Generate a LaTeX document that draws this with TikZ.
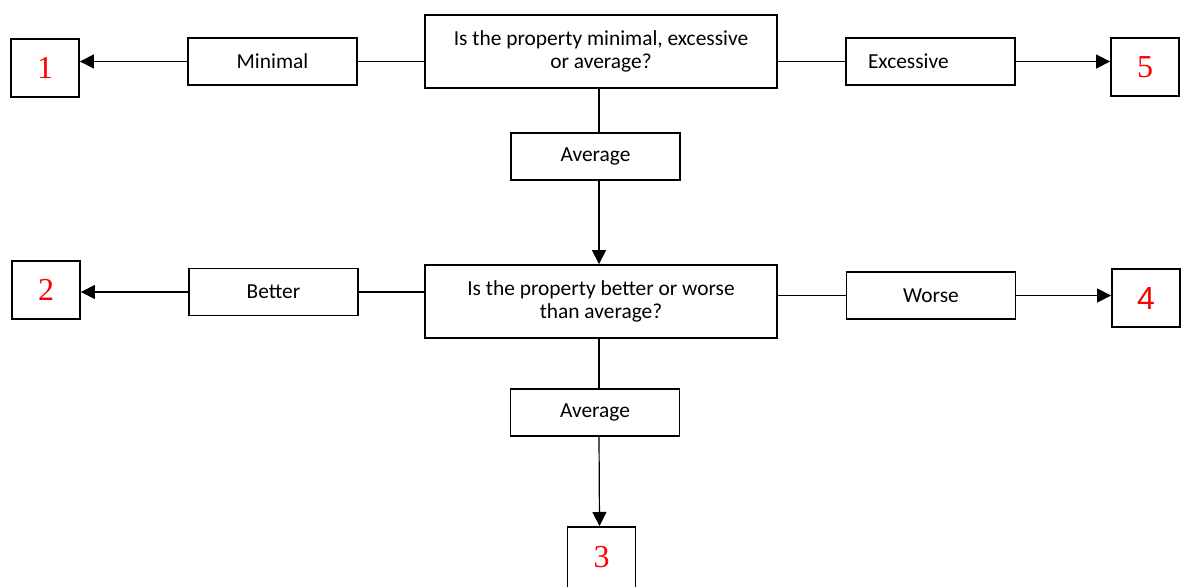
\documentclass[tikz,border=0pt]{standalone}
\usepackage{fontspec}
\setmainfont{Carlito}
\newfontfamily\numserif{Liberation Serif}
\newfontfamily\numsans{Liberation Sans}
\usepackage{xcolor}
\usetikzlibrary{arrows.meta,positioning}

\begin{document}
\begin{tikzpicture}[
    x=0.5pt, y=-0.5pt,
    box/.style={rectangle, draw, line width=0.9pt, minimum width=84.5pt, minimum height=23.5pt, align=center, inner sep=0pt, font=\fontsize{10.7}{11.5}\selectfont},
    question/.style={box, minimum width=176pt, minimum height=36.5pt},
    outcome/.style={rectangle, draw, line width=0.9pt, minimum width=34pt, minimum height=29pt, inner sep=0pt, text=red, font=\numserif\fontsize{16}{18}\selectfont},
    link/.style={line width=0.6pt},
    arrow/.style={link, -{Triangle[length=7pt,width=7pt]}}
]
\useasboundingbox (0,0) rectangle (1182,587);

% questions
\node[question] (q1) at (601,51.5) {Is the property minimal, excessive\\or average?};
\node[question] (q2) at (601,301.5) {Is the property better or worse\\than average?};

% answers
\node[box] (minimal) at (272.5,61.5) {Minimal};
\node[box, text width=62.5pt, inner xsep=11pt, align=left] (excessive) at (930.5,61.5) {Excessive};
\node[box] (avg1) at (595.5,156.5) {Average};
\node[box] (better) at (273.5,292) {Better};
\node[box] (worse) at (931,295.5) {Worse};
\node[box] (avg2) at (595,412.5) {Average};

% outcomes
\node[outcome] (o1) at (45,68) {1};
\node[outcome] (o5) at (1145,67) {5};
\node[outcome] (o2) at (46,290) {2};
\node[outcome, font=\numsans\fontsize{16}{18}\selectfont] (o4) at (1146,298) {4};
\node[outcome, anchor=north, minimum height=60pt, text depth=30pt] (o3) at (601.5,526) {3};

\draw[link] (minimal.east) -- (minimal.east -| q1.west);
\draw[arrow] (minimal.west) -- (minimal.west -| o1.east);
\draw[link] (excessive.west) -- (excessive.west -| q1.east);
\draw[arrow] (excessive.east) -- (excessive.east -| o5.west);
\draw[link] ([xshift=-1pt]q1.south) -- ([xshift=-1pt]q1.south |- avg1.north);
\draw[arrow] ([xshift=-1pt]avg1.south -| q2.north) -- ([xshift=-1pt]q2.north);

\draw[link] (better.east) -- (better.east -| q2.west);
\draw[arrow] (better.west) -- (better.west -| o2.east);
\draw[link] (worse.west) -- (worse.west -| q2.east);
\draw[arrow] (worse.east) -- (worse.east -| o4.west);
\draw[link] ([xshift=-1pt]q2.south) -- ([xshift=-1pt]q2.south |- avg2.north);
\draw[arrow] ([xshift=-1pt]avg2.south -| q2.south) -- ([xshift=-1pt]o3.north);
\end{tikzpicture}
\end{document}
